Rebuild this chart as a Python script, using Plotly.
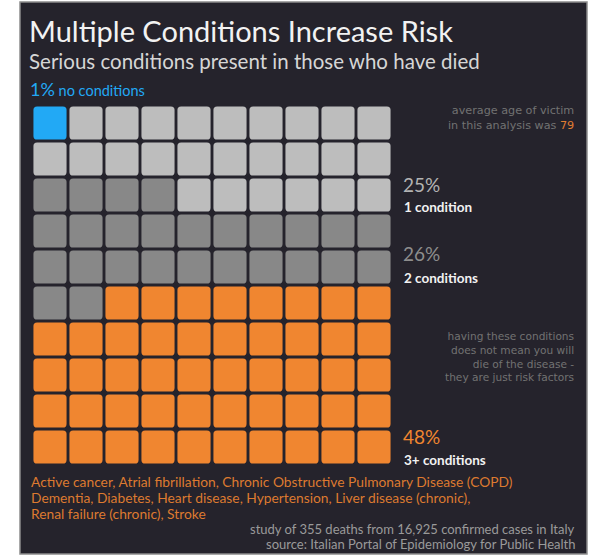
import plotly.graph_objects as go

# ---- data ----
categories = ["no conditions", "1 condition", "2 conditions", "3+ conditions"]
counts = [1, 25, 26, 48]
colors = ["#22a9f5", "#bdbdbd", "#888888", "#f08630"]
pct_labels = ["1%", "25%", "26%", "48%"]
conditions_list = [
    "Active cancer, Atrial fibrillation, Chronic Obstructive Pulmonary Disease (COPD)",
    "Dementia, Diabetes, Heart disease, Hypertension, Liver disease (chronic),",
    "Renal failure (chronic), Stroke",
]
avg_age = 79
n_deaths = 355
n_cases = "16,925"
note_lines = ["having these conditions", "does not mean you will",
              "die of the disease -", "they are just risk factors"]

W, H = 589, 557
BG = "#25232c"
FONT = "Lato"
NOTE_FONT = "DejaVu Sans"

def px(x):
    return x / W

def py(y):
    return 1 - y / H

# grid placement (fill direction per row, as in the original waffle)
n_cols = 10
row_direction = [1, 1, -1, 1, 1, 1, 1, 1, 1, 1]
gap = 0.04
rad = 0.1

cells = []
for n, c in zip(counts, colors):
    cells += [c] * n

positions = []
for r, d in enumerate(row_direction):
    cols = list(range(n_cols)) if d == 1 else list(range(n_cols - 1, -1, -1))
    positions += [(r, c) for c in cols]

shapes = [
    dict(type="rect", xref="paper", yref="paper", x0=px(20), x1=px(587), y0=py(554), y1=py(2),
         fillcolor=BG, line=dict(color="#8c8c8c", width=1.5), layer="below"),
]

def rounded(x0, y0, x1, y1, r):
    return (f"M {x0+r},{y0} L {x1-r},{y0} Q {x1},{y0} {x1},{y0+r} "
            f"L {x1},{y1-r} Q {x1},{y1} {x1-r},{y1} L {x0+r},{y1} "
            f"Q {x0},{y1} {x0},{y1-r} L {x0},{y0+r} Q {x0},{y0} {x0+r},{y0} Z")

xs, ys = [], []
for c, (row, col) in zip(cells, positions):
    xs.append(col + 0.5)
    ys.append(row + 0.5)
    shapes.append(dict(type="path", xref="x", yref="y",
                       path=rounded(col + gap, row + gap, col + 1 - gap, row + 1 - gap, rad),
                       fillcolor=c, line=dict(width=0), layer="above"))

fig = go.Figure()
fig.add_trace(go.Scatter(x=xs, y=ys, mode="markers", marker=dict(size=1, color="rgba(0,0,0,0)"),
                         hoverinfo="skip", showlegend=False))

ann = []

def A(text, x, y, size, color, xanchor="left", yanchor="middle", align="left", family=FONT):
    ann.append(dict(text=text, x=px(x), y=py(y), xref="paper", yref="paper",
                    xanchor=xanchor, yanchor=yanchor, align=align, showarrow=False,
                    font=dict(family=family, size=size, color=color)))

A("Multiple Conditions Increase Risk", 27, 31, 29, "#f2f2f2")
A("Serious conditions present in those who have died", 27, 61, 20.5, "#d6d6d6")
A(f"<span style='font-size:18px'>{pct_labels[0]}</span> {categories[0]}", 28, 89, 14.5, colors[0])

A(f"average age of victim<br>in this analysis was <span style='color:#e07d32'>{avg_age}</span>",
  576, 117.5, 11.2, "#727272", xanchor="right", align="right", family=NOTE_FONT)

A(pct_labels[1], 401, 184, 19, "#b3b3b3")
A(f"<b>{categories[1]}</b>", 402, 207, 13.5, "#f2f2f2")
A(pct_labels[2], 401, 253, 19, "#8d8d8d")
A(f"<b>{categories[2]}</b>", 402, 278, 13.5, "#f2f2f2")

A("<br>".join(note_lines), 576, 356.5, 10.6, "#727272", xanchor="right", align="right",
  family=NOTE_FONT)

A(pct_labels[3], 401, 436, 19, colors[3])
A(f"<b>{categories[3]}</b>", 402, 460, 13.5, "#f2f2f2")

for i, line in enumerate(conditions_list):
    A(line, 29, 481 + i * 16, 13.8, "#dd7a30")

A(f"study of {n_deaths} deaths from {n_cases} confirmed cases in Italy", 577, 529, 13,
  "#9a9a9a", xanchor="right")
A("source: Italian Portal of Epidemiology for Public Health", 577, 544.2, 13,
  "#9a9a9a", xanchor="right")

fig.update_layout(
    width=W, height=H,
    margin=dict(l=0, r=0, t=0, b=0),
    paper_bgcolor="white", plot_bgcolor="rgba(0,0,0,0)",
    shapes=shapes, annotations=ann,
    xaxis=dict(domain=[px(32), px(392)], range=[0, 10], visible=False, fixedrange=True),
    yaxis=dict(domain=[py(465), py(105)], range=[10, 0], visible=False, fixedrange=True),
    showlegend=False,
)

fig.write_html("out.html", config={"displayModeBar": False},
               post_script="document.body.style.margin='0';document.body.style.overflow='hidden';")
